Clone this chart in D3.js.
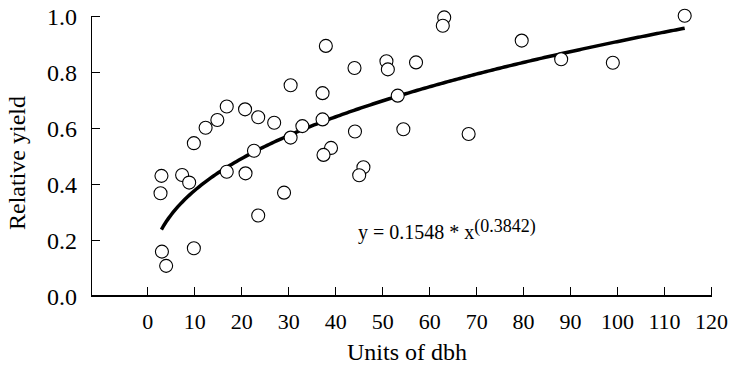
<!DOCTYPE html>
<head>
  <meta charset="utf-8">
  <script src="https://d3js.org/d3.v7.min.js"></script>
  <style>
    body { margin: 0; background: white; }
    .axis path, .axis line { fill: none; stroke: black; stroke-width: 1.2px; shape-rendering: crispEdges; }
  </style>
</head>
<body>
  <script>
    // observed points: units of dbh vs relative yield
    const dbh = [3.0, 2.8, 3.1, 4.0, 9.9, 7.4, 8.9, 9.9, 12.4, 14.9,
                 16.9, 20.8, 23.6, 27.0, 16.9, 20.9, 22.7, 23.6, 29.1, 30.5,
                 33.0, 37.3, 39.1, 37.5, 37.3, 30.5, 38.0, 44.1, 50.9, 51.2,
                 57.2, 53.3, 44.2, 54.5, 68.4, 46.0, 45.1, 63.2, 62.9, 79.7,
                 88.1, 99.1, 114.4];
    const relYield = [0.428, 0.366, 0.157, 0.106, 0.169, 0.431, 0.404, 0.545, 0.600, 0.628,
                      0.676, 0.666, 0.638, 0.618, 0.443, 0.437, 0.518, 0.286, 0.368, 0.565,
                      0.606, 0.630, 0.528, 0.503, 0.724, 0.752, 0.893, 0.814, 0.838, 0.809,
                      0.834, 0.715, 0.587, 0.595, 0.578, 0.459, 0.430, 0.995, 0.965, 0.912,
                      0.845, 0.833, 1.001];

    const xTicks = [0, 10, 20, 30, 40, 50, 60, 70, 80, 90, 100, 110, 120];
    const yTicks = [0.0, 0.2, 0.4, 0.6, 0.8, 1.0];

    // power fit shown on the chart
    const fitA = 0.1548, fitB = 0.3842;
    const fitRange = [3.0, 114.4];

    const serif = "'Liberation Serif', 'Times New Roman', Times, serif";
    const width = 730, height = 366;
    const x = d3.scaleLinear().domain([-12, 120]).range([91, 711]);
    const y = d3.scaleLinear().domain([0, 1]).range([295.5, 16]);

    const svg = d3.select("body").append("svg")
        .attr("width", width)
        .attr("height", height)
        .style("font-family", serif);

    const xAxis = d3.axisBottom(x).tickValues(xTicks).tickSizeInner(-9).tickSizeOuter(0);
    const yAxis = d3.axisLeft(y).tickValues(yTicks).tickSizeInner(-9).tickSizeOuter(0)
        .tickFormat(d3.format(".1f"));

    const gx = svg.append("g")
        .attr("class", "axis")
        .attr("transform", "translate(0," + y(0) + ")")
        .call(xAxis)
        .attr("font-family", null);
    gx.selectAll("text")
        .attr("y", 33).attr("dy", null)
        .attr("fill", "black")
        .style("font-family", serif)
        .style("font-size", "22px");

    const gy = svg.append("g")
        .attr("class", "axis")
        .attr("transform", "translate(" + x(-12) + ",0)")
        .call(yAxis)
        .attr("font-family", null);
    gy.selectAll("text")
        .attr("x", -14).attr("dy", "0.36em")
        .attr("fill", "black")
        .style("font-family", serif)
        .style("font-size", "24px");

    svg.append("text")
        .attr("x", 407).attr("y", 360)
        .attr("text-anchor", "middle")
        .style("font-family", serif)
        .style("font-size", "24px")
        .text("Units of dbh");

    svg.append("text")
        .attr("transform", "translate(25,163) rotate(-90)")
        .attr("text-anchor", "middle")
        .style("font-family", serif)
        .style("font-size", "24px")
        .text("Relative yield");

    // fitted curve
    const fitX = d3.range(fitRange[0], fitRange[1], 0.5).concat([fitRange[1]]);
    const line = d3.line()
        .x(d => x(d))
        .y(d => y(fitA * Math.pow(d, fitB)));
    svg.append("path")
        .datum(fitX)
        .attr("d", line)
        .attr("fill", "none")
        .attr("stroke", "black")
        .attr("stroke-width", 3.5);

    svg.selectAll(".pt")
        .data(dbh.map((d, i) => ({x: d, y: relYield[i]})))
        .enter().append("circle")
        .attr("class", "pt")
        .attr("cx", d => x(d.x))
        .attr("cy", d => y(d.y))
        .attr("r", 6.5)
        .attr("fill", "white")
        .attr("stroke", "black")
        .attr("stroke-width", 1.1);

    const eq = svg.append("text")
        .attr("x", 358).attr("y", 239)
        .style("font-family", serif)
        .style("font-size", "20px");
    eq.append("tspan").text("y = " + fitA + " * x");
    eq.append("tspan")
        .attr("dy", -7)
        .style("font-size", "18px")
        .text("(" + fitB + ")");
  </script>
</body>
